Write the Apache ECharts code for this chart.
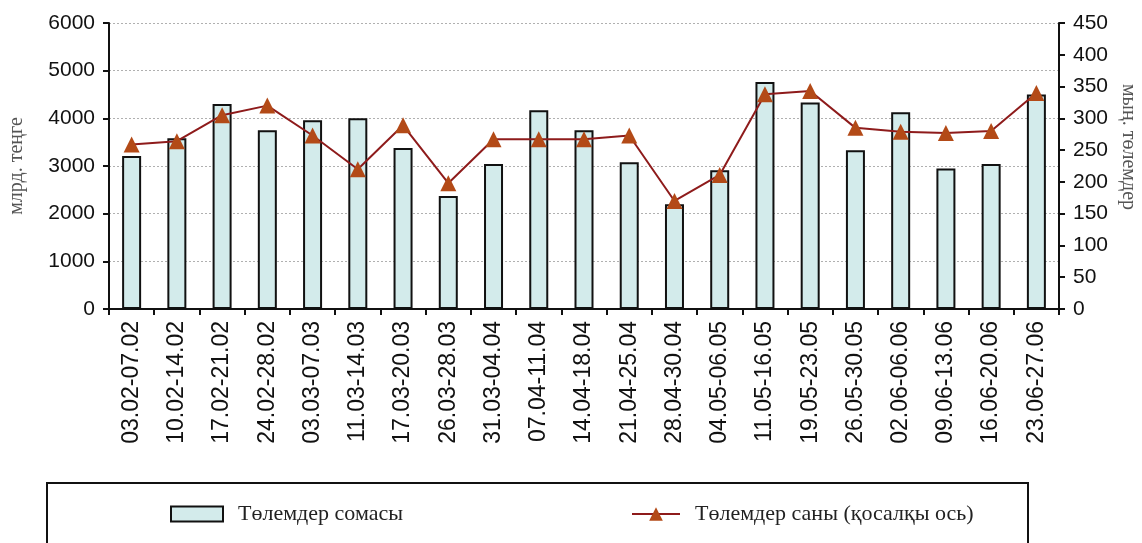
<!DOCTYPE html>
<html>
<head>
<meta charset="utf-8">
<script src="https://cdn.jsdelivr.net/npm/echarts@6/dist/echarts.min.js"></script>
<style>html,body{margin:0;padding:0;background:#fff}#c{width:1142px;height:543px}</style>
</head>
<body>
<div id="c"></div>
<script>
const categories = ['03.02-07.02','10.02-14.02','17.02-21.02','24.02-28.02','03.03-07.03','11.03-14.03','17.03-20.03','26.03-28.03','31.03-04.04','07.04-11.04','14.04-18.04','21.04-25.04','28.04-30.04','04.05-06.05','11.05-16.05','19.05-23.05','26.05-30.05','02.06-06.06','09.06-13.06','16.06-20.06','23.06-27.06'];
const paymentSum = [3210,3580,4300,3750,3960,4000,3380,2370,3040,4170,3750,3080,2200,2910,4760,4330,3330,4130,2950,3040,4500];
const paymentCount = [259,264,305,320,273,220,289,198,267,267,267,273,170,211,338,343,285,279,277,280,340];
const leftTicks = {min:0, max:6000, interval:1000};
const rightTicks = {min:0, max:450, interval:50};
const nameBars = 'Төлемдер сомасы';
const nameLine = 'Төлемдер саны (қосалқы ось)';
const leftAxisName = 'млрд. теңге';
const rightAxisName = 'мың. төлемдер';

const sans = 'Liberation Sans, Arial, sans-serif';
const serif = 'Liberation Serif, Times New Roman, serif';
const chart = echarts.init(document.getElementById('c'), null, {renderer:'canvas'});
chart.setOption({
  animation:false,
  backgroundColor:'#fff',
  grid:{left:109, right:83, top:23, bottom:234, containLabel:false, outerBoundsMode:'none'},
  legend:[
    {data:[nameBars], left:165, top:498, itemWidth:52, itemHeight:15, icon:'rect',
     textStyle:{fontFamily:serif, fontSize:22, color:'#222', padding:[0,0,0,10]}},
    {data:[nameLine], left:626, top:498, itemWidth:48, itemHeight:17,
     textStyle:{fontFamily:serif, fontSize:22, color:'#222', padding:[0,0,0,10]}}
  ],
  xAxis:{
    type:'category', data:categories, boundaryGap:true,
    axisLine:{lineStyle:{color:'#111', width:2}},
    axisTick:{show:true, interval:0, length:6, lineStyle:{color:'#111', width:2}},
    axisLabel:{interval:0, rotate:90, margin:12, fontFamily:sans, fontSize:23, color:'#111'}
  },
  yAxis:[
    {type:'value', min:leftTicks.min, max:leftTicks.max, interval:leftTicks.interval, position:'left',
     name:leftAxisName, nameLocation:'middle', nameRotate:90, nameGap:82,
     nameTextStyle:{fontFamily:serif, fontSize:20, color:'#555'},
     axisLine:{show:true, lineStyle:{color:'#111', width:2}},
     axisTick:{show:true, length:6, lineStyle:{color:'#111', width:2}},
     axisLabel:{margin:14, fontFamily:sans, fontSize:21, color:'#111', formatter:v => String(v)},
     splitLine:{show:true, lineStyle:{color:'#b0b0b0', type:[2,2], width:1}}},
    {type:'value', min:rightTicks.min, max:rightTicks.max, interval:rightTicks.interval, position:'right',
     axisLine:{show:true, lineStyle:{color:'#111', width:2}},
     axisTick:{show:true, length:6, lineStyle:{color:'#111', width:2}},
     axisLabel:{margin:14, fontFamily:sans, fontSize:21, color:'#111', formatter:v => String(v)},
     splitLine:{show:false}}
  ],
  graphic:[
    {type:'rect', shape:{x:47, y:483, width:981, height:80}, style:{fill:'none', stroke:'#111', lineWidth:2}, z:-1},
    {type:'text', x:1128, y:147, rotation:-Math.PI/2,
     style:{text:rightAxisName, fontFamily:serif, fontSize:20, fill:'#555', align:'center', verticalAlign:'middle'}}
  ],
  series:[
    {name:nameBars, type:'bar', data:paymentSum, yAxisIndex:0, barWidth:19,
     itemStyle:{color:'#d3ebeb', borderColor:'#111', borderWidth:2}},
    {name:nameLine, type:'line', data:paymentCount, yAxisIndex:1, symbol:'triangle', symbolSize:16,
     itemStyle:{color:'#b34a17'}, lineStyle:{color:'#8e1b1b', width:2}, z:5}
  ]
});
</script>
</body>
</html>
